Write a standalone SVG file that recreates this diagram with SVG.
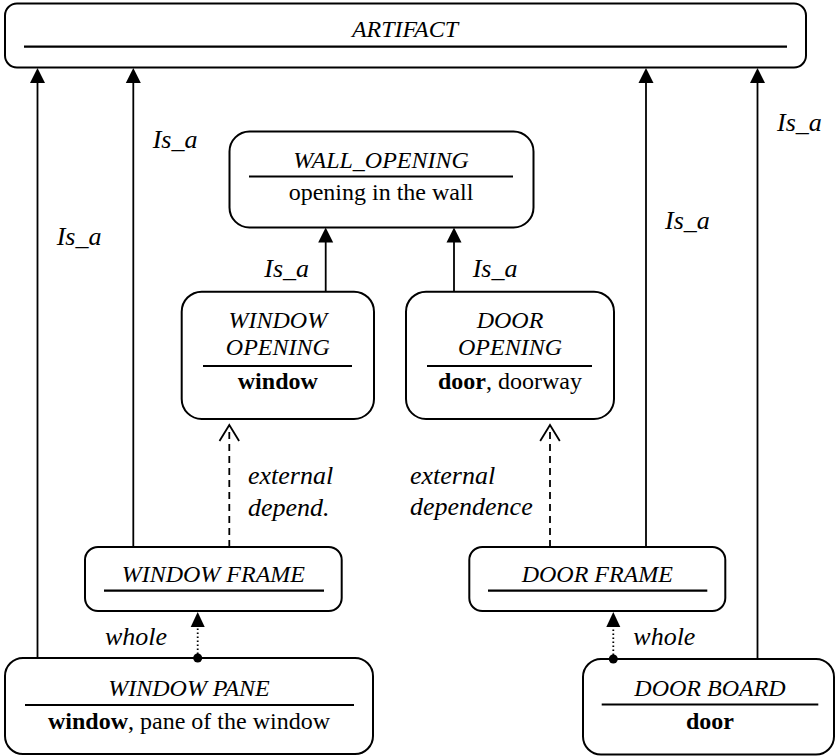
<svg xmlns="http://www.w3.org/2000/svg" width="835" height="756" viewBox="0 0 835 756">
  <!-- node boxes: white fill, black outline; title rules -->
  <g fill="#fff" stroke="#000" stroke-width="2">
    <g id="artifact">
      <rect x="5" y="3.5" width="801" height="64" rx="12"/>
      <line x1="24" y1="46.7" x2="787" y2="46.7" stroke-width="2.2"/>
      <text font-family="Liberation Serif" font-size="24" font-style="italic" text-anchor="middle" fill="#000" stroke="none" x="405" y="37">ARTIFACT</text>
    </g>

    <g id="wall_opening">
      <rect x="229.5" y="131.5" width="304" height="96" rx="20"/>
      <line x1="249" y1="176.5" x2="513" y2="176.5" stroke-width="2.2"/>
      <text font-family="Liberation Serif" font-size="24" font-style="italic" text-anchor="middle" fill="#000" stroke="none" x="381" y="168">WALL_OPENING</text>
      <text font-family="Liberation Serif" font-size="24" text-anchor="middle" fill="#000" stroke="none" x="381" y="200">opening in the wall</text>
    </g>

    <g id="window_opening">
      <rect x="181.7" y="291.7" width="192.3" height="127.3" rx="20"/>
      <line x1="203" y1="366" x2="352" y2="366" stroke-width="2.2"/>
      <text font-family="Liberation Serif" font-size="24" font-style="italic" text-anchor="middle" fill="#000" stroke="none" x="277.8" y="328">WINDOW</text>
      <text font-family="Liberation Serif" font-size="24" font-style="italic" text-anchor="middle" fill="#000" stroke="none" x="277.8" y="355">OPENING</text>
      <text font-family="Liberation Serif" font-size="24" font-weight="bold" text-anchor="middle" fill="#000" stroke="none" x="277.8" y="389">window</text>
    </g>

    <g id="door_opening">
      <rect x="406" y="291.7" width="208" height="127.3" rx="20"/>
      <line x1="427" y1="366" x2="592" y2="366" stroke-width="2.2"/>
      <text font-family="Liberation Serif" font-size="24" font-style="italic" text-anchor="middle" fill="#000" stroke="none" x="510" y="328">DOOR</text>
      <text font-family="Liberation Serif" font-size="24" font-style="italic" text-anchor="middle" fill="#000" stroke="none" x="510" y="355">OPENING</text>
      <text font-family="Liberation Serif" font-size="24" text-anchor="middle" fill="#000" stroke="none" x="510" y="389"><tspan font-weight="bold">door</tspan>, doorway</text>
    </g>

    <g id="window_frame">
      <rect x="85" y="547" width="256.7" height="64" rx="13"/>
      <line x1="104" y1="590.7" x2="324" y2="590.7" stroke-width="2.2"/>
      <text font-family="Liberation Serif" font-size="24" font-style="italic" text-anchor="middle" fill="#000" stroke="none" x="213.3" y="581.5">WINDOW FRAME</text>
    </g>

    <g id="door_frame">
      <rect x="469.3" y="547" width="256" height="64" rx="13"/>
      <line x1="488" y1="590.7" x2="707.3" y2="590.7" stroke-width="2.2"/>
      <text font-family="Liberation Serif" font-size="24" font-style="italic" text-anchor="middle" fill="#000" stroke="none" x="597.3" y="581.5">DOOR FRAME</text>
    </g>

    <g id="window_pane">
      <rect x="5" y="658" width="368" height="96" rx="18"/>
      <line x1="25" y1="705" x2="354" y2="705" stroke-width="2.2"/>
      <text font-family="Liberation Serif" font-size="24" font-style="italic" text-anchor="middle" fill="#000" stroke="none" x="189" y="695.5">WINDOW PANE</text>
      <text font-family="Liberation Serif" font-size="24" text-anchor="middle" fill="#000" stroke="none" x="189" y="728.5"><tspan font-weight="bold">window</tspan>, pane of the window</text>
    </g>

    <g id="door_board">
      <rect x="583" y="659" width="251" height="95.5" rx="18"/>
      <line x1="601.7" y1="704.5" x2="818.3" y2="704.5" stroke-width="2.2"/>
      <text font-family="Liberation Serif" font-size="24" font-style="italic" text-anchor="middle" fill="#000" stroke="none" x="710" y="695.5">DOOR BOARD</text>
      <text font-family="Liberation Serif" font-size="24" font-weight="bold" text-anchor="middle" fill="#000" stroke="none" x="710" y="728.5">door</text>
    </g>
  </g>

  <!-- connectors -->
  <g id="connectors" stroke="#000" stroke-width="1.8" fill="none">
    <!-- Is_a to ARTIFACT -->
    <line x1="37.5" y1="658" x2="37.5" y2="82"/>
    <line x1="133.3" y1="547" x2="133.3" y2="82"/>
    <line x1="646" y1="547" x2="646" y2="82"/>
    <line x1="757.5" y1="659" x2="757.5" y2="82"/>
    <!-- Is_a to WALL_OPENING -->
    <line x1="325.7" y1="291.7" x2="325.7" y2="241"/>
    <line x1="454" y1="291.7" x2="454" y2="241"/>
    <!-- filled arrowheads -->
    <g fill="#000" stroke="none">
      <path d="M37.5,68 l-7.5,15 h15 z"/>
      <path d="M133.3,68 l-7.5,15 h15 z"/>
      <path d="M646,68 l-7.5,15 h15 z"/>
      <path d="M757.5,68 l-7.5,15 h15 z"/>
      <path d="M325.7,227.5 l-7.5,15 h15 z"/>
      <path d="M454,227.5 l-7.5,15 h15 z"/>
    </g>

    <!-- external dependence: dashed with open head -->
    <line x1="229.3" y1="547" x2="229.3" y2="427" stroke-dasharray="7 5"/>
    <polyline points="219.5,441 229.3,425 239.1,441"/>
    <line x1="550" y1="547" x2="550" y2="427" stroke-dasharray="7 5"/>
    <polyline points="540.2,441 550,425 559.8,441"/>

    <!-- whole: dotted, dot at the part, filled head at the whole -->
    <line x1="197.7" y1="658" x2="197.7" y2="626" stroke-dasharray="1.6 2.4"/>
    <circle cx="197.7" cy="658" r="4.5" fill="#000" stroke="none"/>
    <path d="M197.7,612 L190.7,627 L204.7,627 Z" fill="#000" stroke="none"/>
    <line x1="613.3" y1="659" x2="613.3" y2="626" stroke-dasharray="1.6 2.4"/>
    <circle cx="613.3" cy="659" r="4.5" fill="#000" stroke="none"/>
    <path d="M613.3,612 L606.3,627 L620.3,627 Z" fill="#000" stroke="none"/>

    <!-- connector labels -->
    <g fill="#000" stroke="none">
      <text font-family="Liberation Serif" font-size="26" font-style="italic" x="152.7" y="148">Is_a</text>
      <text font-family="Liberation Serif" font-size="26" font-style="italic" x="56.7" y="245">Is_a</text>
      <text font-family="Liberation Serif" font-size="26" font-style="italic" x="665" y="229.3">Is_a</text>
      <text font-family="Liberation Serif" font-size="26" font-style="italic" x="777" y="131">Is_a</text>
      <text font-family="Liberation Serif" font-size="26" font-style="italic" x="264.3" y="276.7">Is_a</text>
      <text font-family="Liberation Serif" font-size="26" font-style="italic" x="472.7" y="276.7">Is_a</text>
      <text font-family="Liberation Serif" font-size="26" font-style="italic" x="248" y="484">external</text>
      <text font-family="Liberation Serif" font-size="26" font-style="italic" x="248" y="516">depend.</text>
      <text font-family="Liberation Serif" font-size="26" font-style="italic" x="410" y="484">external</text>
      <text font-family="Liberation Serif" font-size="26" font-style="italic" x="410" y="515">dependence</text>
      <text font-family="Liberation Serif" font-size="26" font-style="italic" x="105" y="645">whole</text>
      <text font-family="Liberation Serif" font-size="26" font-style="italic" x="633.3" y="645">whole</text>
    </g>
  </g>
</svg>
